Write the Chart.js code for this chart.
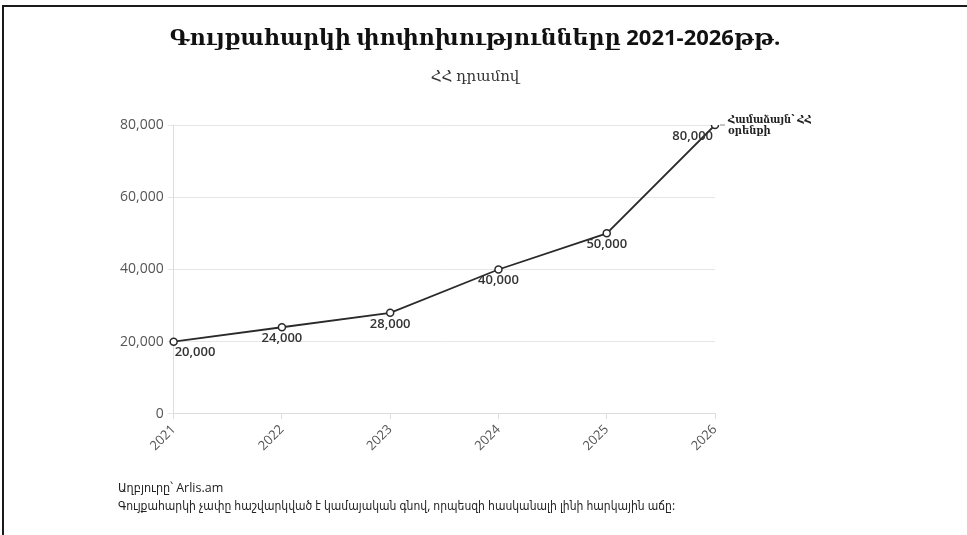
<!DOCTYPE html>
<html>
<head>
<meta charset="utf-8">
<script src="https://cdn.jsdelivr.net/npm/chart.js@4"></script>
<style>
  body { margin: 0; background: #fff; }
  #wrap { position: relative; width: 967px; height: 535px; overflow: hidden; }
  #frame { position: absolute; left: 2px; top: 5px; width: 1000px; height: 600px;
           border-top: 2px solid #1a1a1a; border-left: 2px solid #1a1a1a; }
  #chart { position: absolute; left: 0; top: 0; }
  .head { position: absolute; left: 0; width: 950px; text-align: center; color: #111;
          font-family: 'Open Sans', 'DejaVu Serif', serif; }
  .note { position: absolute; left: 118px; font: 12px 'Open Sans', 'DejaVu Sans Condensed', sans-serif; color: #222; }
</style>
</head>
<body>
<div id="wrap">
  <div id="frame"></div>
  <canvas id="chart" width="967" height="535"></canvas>
  <div class="head" style="top:21px; font-size:22px; font-weight:bold;">Գույքահարկի փոփոխությունները 2021-2026թթ.</div>
  <div class="head" style="top:65px; font-size:15px; color:#333;">ՀՀ դրամով</div>
  <div class="note" style="top:479px; font-size:12.5px;">Աղբյուրը՝ Arlis.am</div>
  <div class="note" style="top:497px">Գույքահարկի չափը հաշվարկված է կամայական գնով, որպեսզի հասկանալի լինի հարկային աճը:</div>
</div>
<script>
const years = ['2021', '2022', '2023', '2024', '2025', '2026'];
const taxValues = [20000, 24000, 28000, 40000, 50000, 80000];
const yTicks = [0, 20000, 40000, 60000, 80000];
const endNote = ['Համաձայն՝ ՀՀ', 'օրենքի'];

const FONT = "'Open Sans', 'DejaVu Serif', serif";
const ctx = document.getElementById('chart');

// value labels under the points and the note beside the last one
const pointLabels = {
    id: 'pointLabels',
    afterDatasetsDraw(chart) {
        const c = chart.ctx;
        const meta = chart.getDatasetMeta(0);
        const last = meta.data.length - 1;
        c.save();
        c.font = '600 13px ' + FONT;
        c.fillStyle = '#333';
        c.textBaseline = 'middle';
        meta.data.forEach((pt, i) => {
            const txt = taxValues[i].toLocaleString('en-US');
            if (i === 0) { c.textAlign = 'left'; c.fillText(txt, pt.x + 1, pt.y + 11); }
            else if (i === last) { c.textAlign = 'right'; c.fillText(txt, pt.x - 2, pt.y + 11); }
            else { c.textAlign = 'center'; c.fillText(txt, pt.x, pt.y + 11); }
        });
        const p = meta.data[last];
        c.strokeStyle = '#888';
        c.lineWidth = 1;
        c.beginPath();
        c.moveTo(p.x + 5, p.y);
        c.lineTo(p.x + 10, p.y);
        c.stroke();
        c.font = "bold 11px 'Open Sans', 'DejaVu Serif Condensed', 'DejaVu Serif', serif";
        c.fillStyle = '#222';
        c.textAlign = 'left';
        endNote.forEach((line, k) => c.fillText(line, p.x + 13, p.y - 5 + k * 11));
        c.restore();
    }
};

new Chart(ctx, {
    type: 'line',
    data: {
        labels: years,
        datasets: [{
            data: taxValues,
            borderColor: '#2a2a2a',
            borderWidth: 1.8,
            pointRadius: 3.5,
            pointBackgroundColor: '#fff',
            pointBorderColor: '#2a2a2a',
            pointBorderWidth: 1.5,
            tension: 0
        }]
    },
    options: {
        responsive: false,
        animation: false,
        layout: { padding: { left: 116, right: 252, top: 125, bottom: 78 } },
        plugins: {
            legend: { display: false },
            tooltip: { enabled: false }
        },
        scales: {
            x: {
                offset: false,
                grid: { drawOnChartArea: false, color: '#ddd', tickLength: 5 },
                border: { color: '#ddd' },
                ticks: { color: '#555', font: { family: FONT, size: 13 }, minRotation: 45, maxRotation: 45 }
            },
            y: {
                min: 0,
                max: 80000,
                afterBuildTicks: axis => { axis.ticks = yTicks.map(v => ({ value: v })); },
                grid: { color: '#e6e6e6', tickLength: 6 },
                border: { color: '#ddd' },
                ticks: {
                    color: '#555',
                    font: { family: FONT, size: 14 },
                    padding: 4,
                    callback: v => v.toLocaleString('en-US')
                }
            }
        }
    },
    plugins: [pointLabels]
});
</script>
</body>
</html>
